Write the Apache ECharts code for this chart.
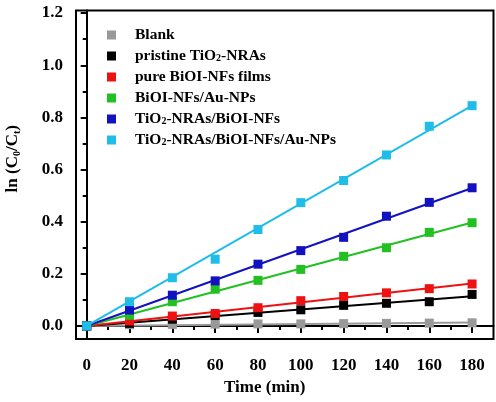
<!DOCTYPE html>
<html>
<head>
<meta charset="utf-8">
<script src="https://cdn.jsdelivr.net/npm/echarts@6/dist/echarts.min.js"></script>
<style>html,body{margin:0;padding:0;background:#fff}#c{width:496px;height:402px}</style>
</head>
<body>
<div id="c"></div>
<script>
const times = [0, 20, 40, 60, 80, 100, 120, 140, 160, 180];
const seriesNames = ['Blank', 'pristine TiO2-NRAs', 'pure BiOI-NFs films', 'BiOI-NFs/Au-NPs', 'TiO2-NRAs/BiOI-NFs', 'TiO2-NRAs/BiOI-NFs/Au-NPs'];
const blank = [0, 0.005, 0.006, 0.007, 0.008, 0.008, 0.009, 0.010, 0.011, 0.012];
const pristineTiO2 = [0, 0.010, 0.026, 0.040, 0.052, 0.062, 0.079, 0.087, 0.093, 0.121];
const pureBiOI = [0, 0.019, 0.038, 0.048, 0.070, 0.097, 0.113, 0.127, 0.143, 0.161];
const biOIAu = [0, 0.041, 0.093, 0.141, 0.175, 0.217, 0.267, 0.300, 0.359, 0.396];
const tiO2BiOI = [0, 0.061, 0.118, 0.173, 0.237, 0.289, 0.340, 0.421, 0.474, 0.530];
const tiO2BiOIAu = [0, 0.093, 0.185, 0.256, 0.370, 0.473, 0.558, 0.656, 0.766, 0.845];
const colors = ['#999999', '#000000', '#ee1111', '#22c022', '#1212c0', '#1fbde8'];
const yMajorTicks = [0, 0.2, 0.4, 0.6, 0.8, 1.0, 1.2];
const yMinorTicks = [0.1, 0.3, 0.5, 0.7, 0.9, 1.1];
const xMajorTicks = [0, 20, 40, 60, 80, 100, 120, 140, 160, 180];
const xMinorTicks = [10, 30, 50, 70, 90, 110, 130, 150, 170];

const allData = [blank, pristineTiO2, pureBiOI, biOIAu, tiO2BiOI, tiO2BiOIAu];
const FONT = 'Liberation Serif';

function fitThroughOrigin(xs, ys) {
  let sxy = 0, sxx = 0;
  for (let i = 0; i < xs.length; i++) { sxy += xs[i] * ys[i]; sxx += xs[i] * xs[i]; }
  return sxy / sxx;
}

const series = [];
allData.forEach((ys, i) => {
  const m = fitThroughOrigin(times, ys);
  const x0 = times[0], x1 = times[times.length - 1];
  series.push({
    name: seriesNames[i] + ' fit', type: 'line', xAxisIndex: 0, yAxisIndex: 0,
    data: [[x0, m * x0], [x1, m * x1]], symbol: 'none', silent: true,
    lineStyle: { color: colors[i], width: 2 }, z: 2 + i * 2
  });
});
allData.forEach((ys, i) => {
  series.push({
    name: seriesNames[i], type: 'scatter', xAxisIndex: 0, yAxisIndex: 0,
    data: times.map((t, k) => [t, ys[k]]), symbol: 'rect', symbolSize: 9,
    itemStyle: { color: colors[i], opacity: 1 }, z: 3 + i * 2
  });
});

const subRich = {
  sub: { fontFamily: FONT, fontWeight: 'bold', fontSize: 10, lineHeight: 10, verticalAlign: 'bottom', color: '#000' }
};

const chart = echarts.init(document.getElementById('c'), null, { renderer: 'canvas' });
chart.setOption({
  animation: false,
  backgroundColor: '#fff',
  grid: { left: 76, top: 10.5, right: 2.5, bottom: 63, show: true, borderColor: '#000', borderWidth: 2, backgroundColor: 'transparent', outerBoundsMode: 'none', containLabel: false },
  legend: {
    data: seriesNames, orient: 'vertical', left: 102, top: 22,
    icon: 'rect', itemWidth: 9, itemHeight: 9, itemGap: 5,
    itemStyle: { opacity: 1 },
    formatter: n => n.replace(/TiO2/g, 'TiO{sub|2}'),
    textStyle: { fontFamily: FONT, fontWeight: 'bold', fontSize: 15.5, lineHeight: 15, color: '#000', padding: [0, 0, 0, 14], rich: subRich }
  },
  xAxis: [{
    type: 'value', min: -5, max: 190,
    name: 'Time (min)', nameLocation: 'middle', nameGap: 36,
    nameTextStyle: { fontFamily: FONT, fontWeight: 'bold', fontSize: 17, color: '#000', padding: [0, 40, 0, 0] },
    splitLine: { show: false },
    axisLine: { lineStyle: { color: '#000', width: 2 } },
    axisTick: { inside: false, length: 7, lineStyle: { width: 2, color: '#000' }, customValues: xMajorTicks },
    axisLabel: { customValues: xMajorTicks, margin: 18, fontFamily: FONT, fontWeight: 'bold', fontSize: 17, color: '#000' }
  }, {
    type: 'value', min: -5, max: 190, position: 'bottom',
    axisLine: { show: false }, splitLine: { show: false },
    axisTick: { inside: false, length: 4, lineStyle: { width: 2, color: '#000' }, customValues: xMinorTicks },
    axisLabel: { show: false }
  }],
  yAxis: [{
    type: 'value', min: -0.05, max: 1.21,
    name: 'ln (C{sub|0}/C{sub|t})', nameLocation: 'middle', nameGap: 54,
    nameTextStyle: { fontFamily: FONT, fontWeight: 'bold', fontSize: 17, lineHeight: 18, color: '#000', padding: [0, 0, 0, 32], rich: subRich },
    splitLine: { show: false },
    axisLine: { lineStyle: { color: '#000', width: 2 } },
    axisTick: { inside: false, length: 6, lineStyle: { width: 2, color: '#000' }, customValues: yMajorTicks },
    axisLabel: { customValues: yMajorTicks, margin: 13, fontFamily: FONT, fontWeight: 'bold', fontSize: 17, color: '#000', formatter: v => v.toFixed(1) }
  }, {
    type: 'value', min: -0.05, max: 1.21, position: 'left',
    axisLine: { show: false }, splitLine: { show: false },
    axisTick: { inside: false, length: 4, lineStyle: { width: 2, color: '#000' }, customValues: yMinorTicks },
    axisLabel: { show: false }
  }],
  series: series
});
</script>
</body>
</html>
